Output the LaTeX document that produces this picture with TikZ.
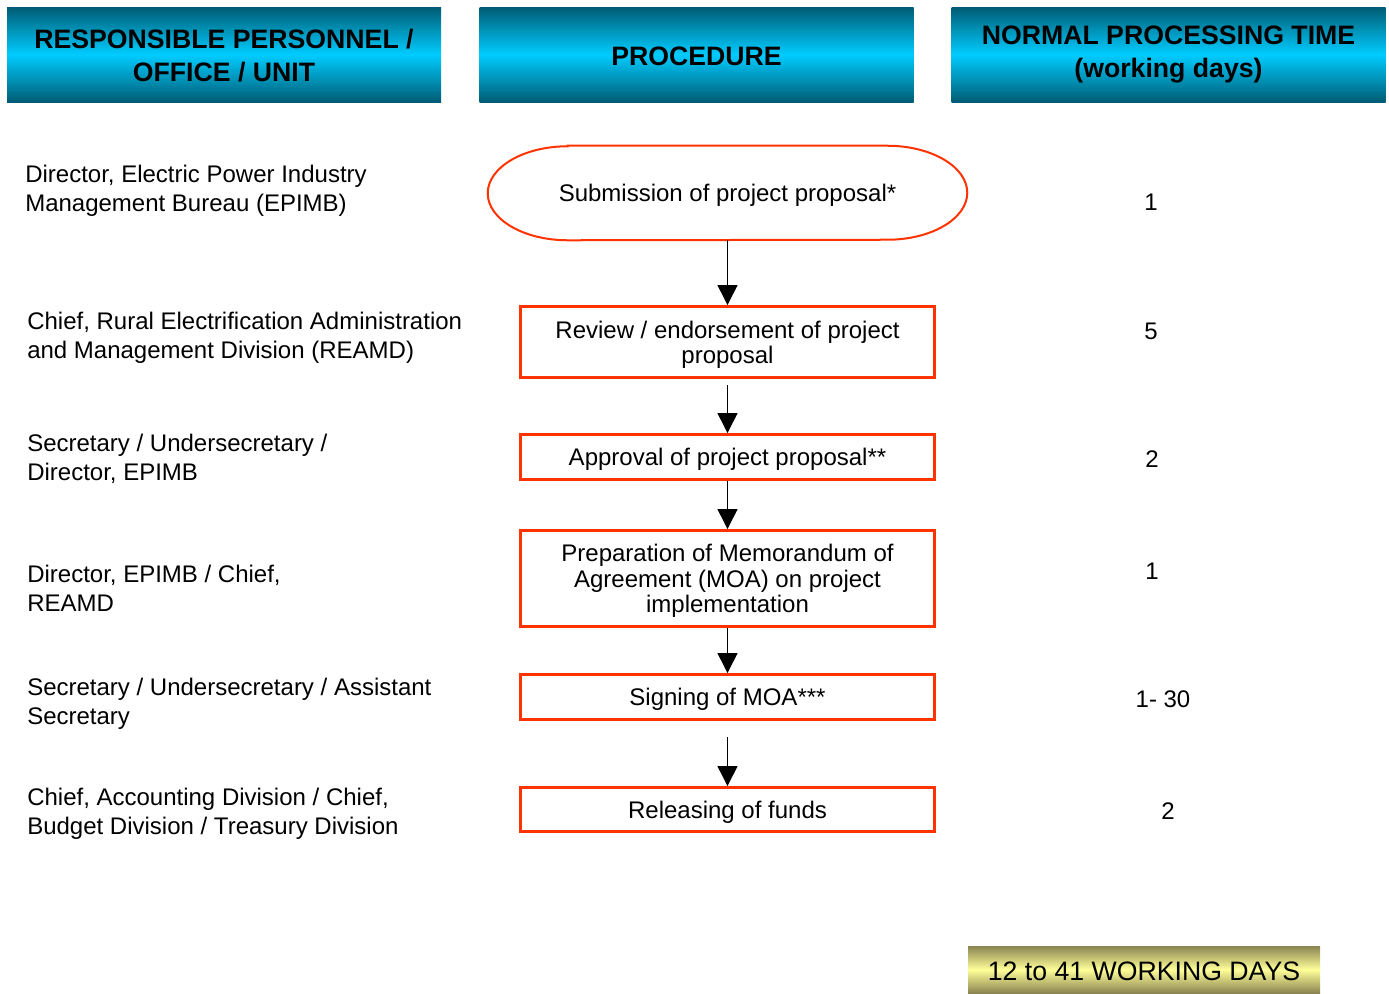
\documentclass[tikz,border=0pt]{standalone}
\usepackage{fontspec}
\setmainfont{Liberation Sans}
\usetikzlibrary{arrows.meta}
\definecolor{hdark}{HTML}{005C74}
\definecolor{hlight}{HTML}{00CCFF}
\definecolor{odark}{HTML}{8A8450}
\definecolor{olight}{HTML}{FFFF99}
\definecolor{redline}{HTML}{FF3300}
\newcommand{\lowr}{\rule{0pt}{16.8pt}}
\newcommand{\lowh}{\rule{0pt}{16.6pt}}
\tikzset{
  header/.style={minimum width=434*0.75pt, minimum height=95*0.75pt, inner sep=0pt,
    top color=hdark, bottom color=hdark, middle color=hlight, align=center,
    font=\fontsize{20}{24.5}\selectfont\bfseries},
  procbox/.style={draw=redline, line width=2.2pt, minimum width=414*0.75pt, inner sep=0pt,
    align=center, font=\fontsize{18}{19}\selectfont},
  role/.style={anchor=west, inner sep=0pt, align=left, font=\fontsize{18}{21.5}\selectfont},
  days/.style={inner sep=0pt, font=\fontsize{18}{21.5}\selectfont},
  arr/.style={line width=1pt, -{Triangle[width=15pt,length=15pt]}},
}
\begin{document}
\begin{tikzpicture}[x=0.75pt,y=-0.75pt]
\useasboundingbox (0,0) rectangle (1389,993);
% headers
\node[header] (h1) at (224,54.5) {\lowh RESPONSIBLE PERSONNEL /\\OFFICE / UNIT};
\node[header] (h2) at (696.5,54.5) {\lowr PROCEDURE};
\node[header] (h3) at (1168.5,54.5) {NORMAL PROCESSING TIME\\(working days)};
% start terminal
\node[inner sep=0pt, minimum width=479*0.75pt, minimum height=94*0.75pt,
  font=\fontsize{18}{19}\selectfont] (sub) at (727.5,193) {\lowr Submission of project proposal*};
\draw[redline, line width=1.5pt]
  ([xshift=60pt]sub.north west) -- ([xshift=-60pt]sub.north east)
  arc[start angle=90, end angle=-90, x radius=60pt, y radius=35.25pt]
  -- ([xshift=60pt]sub.south west)
  arc[start angle=270, end angle=90, x radius=60pt, y radius=35.25pt] -- cycle;
% process boxes
\node[procbox, minimum height=71*0.75pt] (b2) at (727.5,342) {\lowr Review / endorsement of project\\proposal};
\node[procbox, minimum height=45*0.75pt] (b3) at (727.5,457) {\lowr Approval of project proposal**};
\node[procbox, minimum height=96*0.75pt] (b4) at (727.5,578.5) {\lowr Preparation of Memorandum of\\Agreement (MOA) on project\\implementation};
\node[procbox, minimum height=45*0.75pt] (b5) at (727.5,697) {\lowr Signing of MOA***};
\node[procbox, minimum height=44*0.75pt] (b6) at (727.5,809.5) {\lowr Releasing of funds};
% connectors
\coordinate (c2) at (727.5,385);
\coordinate (c5) at (727.5,737);
\draw[arr] (sub.south) -- (b2.north);
\draw[arr] (c2) -- (b3.north);
\draw[arr] (b3.south) -- (b4.north);
\draw[arr] (b4.south) -- (b5.north);
\draw[arr] (c5) -- (b6.north);
% responsible personnel
\node[role] (r1) at (25,190.5) {Director, Electric Power Industry\\Management Bureau (EPIMB)};
\node[role] (r2) at (27,337.5) {Chief, Rural Electrification Administration\\and Management Division (REAMD)};
\node[role] (r3) at (27,459) {Secretary / Undersecretary /\\Director, EPIMB};
\node[role] (r4) at (27,588.5) {Director, EPIMB / Chief,\\REAMD};
\node[role] (r5) at (27,704) {Secretary / Undersecretary / Assistant\\Secretary};
\node[role] (r6) at (27,814) {Chief, Accounting Division / Chief,\\Budget Division / Treasury Division};
% processing time
\node[days] (d1) at (1151,202) {1};
\node[days] (d2) at (1151,331) {5};
\node[days] (d3) at (1152,459) {2};
\node[days] (d4) at (1152,571) {1};
\node[days] (d5) at (1163,699) {1- 30};
\node[days] (d6) at (1168,811) {2};
% total
\node[minimum width=352*0.75pt, minimum height=47*0.75pt, inner sep=0pt,
  top color=odark, bottom color=odark, middle color=olight,
  font=\fontsize{20}{24}\selectfont] (tot) at (1144,969.5) {\lowr 12 to 41 WORKING DAYS};
\end{tikzpicture}
\end{document}
